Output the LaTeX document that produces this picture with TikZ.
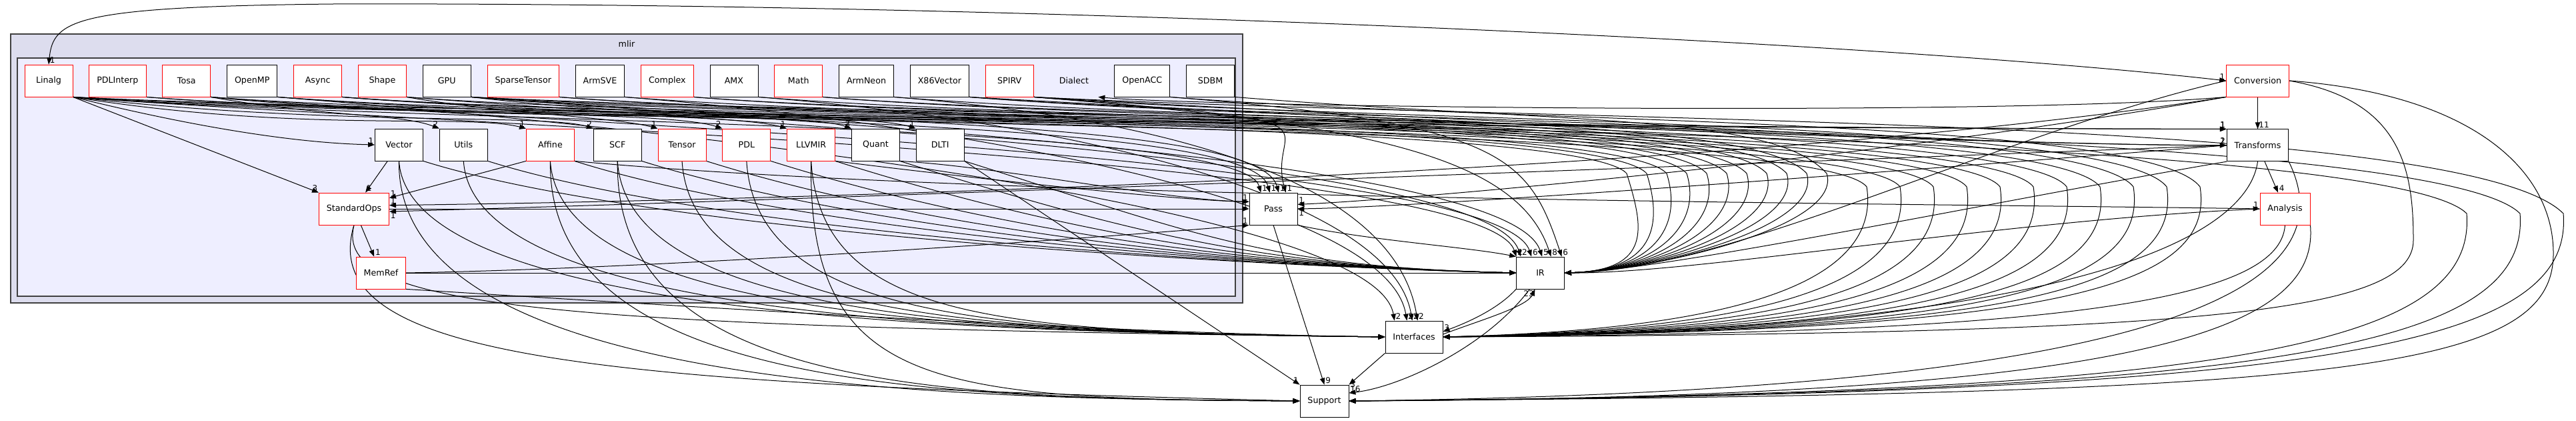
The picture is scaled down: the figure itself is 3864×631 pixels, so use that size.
\documentclass[tikz,border=0pt]{standalone}
\usepackage{fontspec}
\setmainfont{DejaVu Sans}
\usepackage{tikz}
\usetikzlibrary{positioning}
\usetikzlibrary{calc}
\usetikzlibrary{arrows.meta}

\definecolor{mlirfill}{HTML}{DDDDEE}
\definecolor{dialectfill}{HTML}{EEEEFF}
\definecolor{clusterline}{HTML}{404040}

\pgfdeclarelayer{clusters}
\pgfdeclarelayer{links}
\pgfsetlayers{clusters,links,main}

\tikzset{
  dirnode/.style={draw, fill=white, line width=0.6pt, minimum width=54pt, minimum height=36pt, inner xsep=8.6pt, font=\fontsize{9.5}{11}\selectfont},
  dirred/.style={dirnode, draw=red},
  dirblack/.style={dirnode, draw=black},
  dep/.style={arrows={-Triangle[length=7.5pt,width=5.5pt]}, line width=0.75pt},
  depboth/.style={arrows={Triangle[length=7.5pt,width=5.5pt]-Triangle[length=7.5pt,width=5.5pt]}, line width=0.75pt},
  num/.style={font=\fontsize{9}{10}\selectfont, inner sep=1pt},
}

\begin{document}
\begin{tikzpicture}[x=0.75pt, y=-0.75pt, node distance=18pt]
\useasboundingbox (0,0) rectangle (3864,631);

% Dialect, top row
\node[dirred] (linalg) at (73,121) {Linalg};
\node[dirred, right=of linalg] (pdlinterp) {PDLInterp};
\node[dirred, right=of pdlinterp] (tosa) {Tosa};
\node[dirblack, right=of tosa] (openmp) {OpenMP};
\node[dirred, right=of openmp] (async) {Async};
\node[dirred, right=of async] (shape) {Shape};
\node[dirblack, right=of shape] (gpu) {GPU};
\node[dirred, right=of gpu] (sparsetensor) {SparseTensor};
\node[dirblack, right=of sparsetensor] (armsve) {ArmSVE};
\node[dirred, right=of armsve] (complex) {Complex};
\node[dirblack, right=of complex] (amx) {AMX};
\node[dirred, right=of amx] (math) {Math};
\node[dirblack, right=of math] (armneon) {ArmNeon};
\node[dirblack, right=of armneon] (xvector) {X86Vector};
\node[dirred, right=of xvector] (spirv) {SPIRV};
\node[dirnode, draw=none, fill=none, right=of spirv] (dialect) {Dialect};
\node[dirblack, right=of dialect] (openacc) {OpenACC};
\node[dirblack, right=of openacc] (sdbm) {SDBM};

% Dialect, lower rows
\node[dirblack] (vector) at (598.5,217) {Vector};
\node[dirblack, right=of vector] (utils) {Utils};
\node[dirred, right=43pt of utils] (affine) {Affine};
\node[dirblack, right=21pt of affine] (scf) {SCF};
\node[dirred, right=of scf] (tensor) {Tensor};
\node[dirred, right=of tensor] (pdl) {PDL};
\node[dirred, right=of pdl] (llvmir) {LLVMIR};
\node[dirblack, right=of llvmir] (quant) {Quant};
\node[dirblack, right=of quant] (dlti) {DLTI};
\node[dirred] (standardops) at (531,313) {StandardOps};
\node[dirred] (memref) at (571.5,409) {MemRef};

% outside mlir/Dialect
\node[dirblack] (pass) at (1910,313) {Pass};
\node[dirblack] (ir) at (2310.5,409) {IR};
\node[dirblack] (interfaces) at (2121,505) {Interfaces};
\node[dirblack] (support) at (1986.5,601) {Support};
\node[dirred] (conversion) at (3386.5,121) {Conversion};
\node[dirblack, below=36pt of conversion] (transforms) {Transforms};
\node[dirred] (analysis) at (3427.5,313) {Analysis};

\node[font=\fontsize{9.5}{11}\selectfont] (mlirlbl) at (940,66) {mlir};

\begin{pgfonlayer}{clusters}
\draw[clusterline, fill=mlirfill, line width=0.8pt] (16,51) rectangle (1864,454);
\draw[clusterline, fill=dialectfill, line width=0.8pt] (26,87) rectangle (1853,444);
\end{pgfonlayer}

\begin{pgfonlayer}{links}
% inside Dialect
\draw[dep] (linalg.south east) .. controls (330,200) and (470,215) .. (vector.west) node[num, pos=1, above left]{1};
\draw[dep] (linalg.south east) -- (standardops.north west) node[num, pos=1, above left]{3};
\draw[dep] (vector) -- (standardops) node[num, pos=1, above right]{1};
\draw[dep] (affine.south west) -- ([yshift=-6pt]standardops.north east) node[num, pos=1, above right]{1};
\draw[dep] (standardops) -- (memref) node[num, pos=1, above right]{1};
\draw[dep] (tosa.south east) .. controls (480,175) and (600,170) .. (utils.north west) node[num, pos=1, above left]{2};
\draw[dep] (linalg.south east) .. controls (450,200) and (700,170) .. (affine.north west) node[num, pos=1, above left]{1};
\draw[dep] (linalg.south east) .. controls (500,190) and (820,170) .. (scf.north west) node[num, pos=1, above left]{2};
\draw[dep] (shape.south east) .. controls (750,170) and (920,175) .. (tensor.north west) node[num, pos=1, above left]{1};
\draw[dep] (pdlinterp.south east) .. controls (600,175) and (1000,165) .. (pdl.north west) node[num, pos=1, above left]{2};
\draw[dep] (openmp.south east) .. controls (800,175) and (1100,170) .. (llvmir.north west) node[num, pos=1, above left]{1};
\draw[dep] (tosa.south east) .. controls (700,185) and (1200,165) .. (quant.north west) node[num, pos=1, above left]{3};
\draw[dep] (gpu.south east) .. controls (1000,180) and (1300,170) .. (dlti.north west) node[num, pos=1, above left]{1};
\draw[dep] (conversion.south west) .. controls (3000,175) and (1800,160) .. (dialect.south east);

% StandardOps and MemRef
\draw[dep] (standardops.east) -- (pass.west) node[num, pos=1, above left]{1};
\draw[dep] (memref.east) -- (ir.west);
\draw[dep] (memref.east) .. controls (1000,402) and (1600,360) .. (pass.south west) node[num, pos=1, above left]{1};
\draw[dep] (memref.south east) .. controls (1200,470) and (1700,500) .. (interfaces.west);
\draw[dep] (standardops.south) .. controls (470,540) and (900,575) .. (support.west);
\draw[dep] (standardops.south) .. controls (500,460) and (800,490) .. (interfaces.west);

% lower rows to IR, Interfaces, Support
\foreach \s in {vector, utils, affine, scf, tensor, pdl, llvmir, quant, dlti}
  \draw[dep] (\s.south east) .. controls +(350,110) and (1900,400) .. (ir.west);
\foreach \s in {vector, utils, affine, scf, tensor, pdl, llvmir}
  \draw[dep] (\s.south) .. controls +(15,240) and (1500,498) .. (interfaces.west);
\foreach \s in {vector, affine, scf, llvmir}
  \draw[dep] (\s.south) .. controls +(-5,340) and (1400,598) .. (support.west);
\draw[dep] (quant.south east) .. controls (1500,250) and (1750,300) .. ([yshift=8pt]pass.west) node[num, pos=1, above left]{1};
\draw[dep] (llvmir.south east) .. controls (1400,260) and (1750,300) .. ([yshift=8pt]pass.west);
\draw[dep] (dlti.south east) -- (support.north west) node[num, pos=1, above left]{1};
\draw[dep] (affine.south east) .. controls (1500,300) and (2900,305) .. (analysis.west) node[num, pos=1, above left]{1};

% top row to Pass, IR, Interfaces, Transforms
\foreach \s/\dx in {linalg/-14, async/-4, gpu/6, spirv/14}
  \draw[dep] (\s.south east) .. controls +(500,40) and +(-30,-110) .. ([xshift=\dx pt]pass.north) node[num, pos=1, above right]{1};
\foreach \s/\dx/\cnt in {linalg/-27/2, shape/-22/2, tosa/-10/6, gpu/2/5, spirv/12/8, openacc/24/6}
  \draw[dep] (\s.south east) .. controls +(500,40) and +(-50,-150) .. ([xshift=\dx pt]ir.north) node[num, pos=1, above right]{\cnt};
\foreach \s/\dx in {openmp/-22, armsve/-8, amx/-2, armneon/4}
  \draw[dep] (\s.south east) .. controls +(500,40) and +(-30,-180) .. ([xshift=\dx pt]interfaces.north) node[num, pos=1, above right]{2};
\foreach \s/\a/\cnt in {linalg/north west/1, gpu/north west/1, spirv/west/1, xvector/west/2}
  \draw[dep] (\s.south east) .. controls +(700,40) and +(-300,0) .. (transforms.\a) node[num, pos=1, above left]{\cnt};

% top row round the right side
\foreach \s/\xf in {pdlinterp/2440, openmp/2470, async/2500, sparsetensor/2530, armsve/2560, complex/2590, amx/2620, math/2650, armneon/2680, xvector/2710, sdbm/2740}
  \draw[dep] (\s.south east) .. controls +(500,40) and (\xf-80,170) .. (\xf,260) .. controls (\xf+25,340) and (2480,405) .. (ir.east);
\foreach \s/\xf in {linalg/2800, tosa/2850, async/2900, shape/2950, gpu/3000, sparsetensor/3050, complex/3100, math/3150, xvector/3200, spirv/3250, openacc/3300}
  \draw[dep] (\s.south east) .. controls +(500,40) and (\xf-80,175) .. (\xf,280) .. controls (\xf+25,440) and (\xf-250,495) .. (interfaces.east);
\foreach \s/\xf in {linalg/3700, gpu/3780, spirv/3845}
  \draw[dep] (\s.south east) .. controls +(800,40) and (\xf-150,170) .. (\xf,320) .. controls (\xf+15,520) and (\xf-350,590) .. (support.east);

% Conversion, Transforms, Analysis
\draw[depboth] (linalg.north) .. controls (80,30) and (110,10) .. (500,6) node[num, pos=0, above right]{1} .. controls (1500,3) and (2800,60) .. (conversion.west) node[num, pos=1, above left]{1};
\draw[dep] (conversion) -- (transforms) node[num, pos=1, above right]{11};
\draw[dep] (transforms) -- (analysis) node[num, pos=1, above right]{4};
\draw[dep] (conversion.south west) .. controls (2600,260) and (1200,300) .. ([yshift=4pt]standardops.east) node[num, pos=1, above right]{1};
\draw[dep] (transforms.west) .. controls (2500,250) and (1200,300) .. ([yshift=-3pt]standardops.east) node[num, pos=1, below right]{1};
\draw[dep] (conversion.south west) .. controls (2800,240) and (2100,300) .. ([yshift=5pt]pass.east) node[num, pos=1, above right]{1};
\draw[dep] (transforms.west) .. controls (2800,260) and (2150,310) .. (pass.east) node[num, pos=1, below right]{1};
\draw[dep] (transforms.south west) .. controls (3000,300) and (2500,405) .. (ir.east);
\draw[dep] (analysis.west) .. controls (3000,330) and (2550,410) .. (ir.east);
\draw[dep] (conversion.west) .. controls (3000,200) and (2600,405) .. (ir.east);
\draw[dep] (transforms.south) .. controls (3370,360) and (3100,495) .. (interfaces.east);
\draw[dep] (analysis.south) .. controls (3420,450) and (3100,500) .. (interfaces.east);
\draw[dep] (transforms.south east) .. controls (3520,420) and (3300,585) .. (support.east);
\draw[dep] (analysis.south east) .. controls (3480,500) and (3200,595) .. (support.east);
\draw[dep] (conversion.east) .. controls (3600,150) and (3620,250) .. (3620,360) .. controls (3620,470) and (3300,500) .. (interfaces.east);
\draw[dep] (conversion.east) .. controls (3700,140) and (3830,250) .. (3830,380) .. controls (3830,560) and (3500,590) .. (support.east);

% Pass, IR, Interfaces, Support
\draw[dep] (pass.south) -- (support.north) node[num, pos=1, above right]{9};
\draw[dep] (pass.south east) .. controls (2050,360) and (2200,370) .. (ir.north west);
\draw[dep] (interfaces.south west) -- (support.north east) node[num, pos=1, right]{3};
\draw[dep] (ir.south west) .. controls (2250,460) and (2210,480) .. ([yshift=6pt]interfaces.east) node[num, pos=1, above right]{3};
\draw[dep] ([yshift=3pt]interfaces.east) .. controls (2220,480) and (2290,460) .. ([xshift=-6pt]ir.south) node[num, pos=1, below left]{23};
\draw[dep] ([xshift=-12pt]ir.south) .. controls (2230,520) and (2100,580) .. ([yshift=9pt]support.east) node[num, pos=1, above right]{16};
\end{pgfonlayer}
\end{tikzpicture}
\end{document}
